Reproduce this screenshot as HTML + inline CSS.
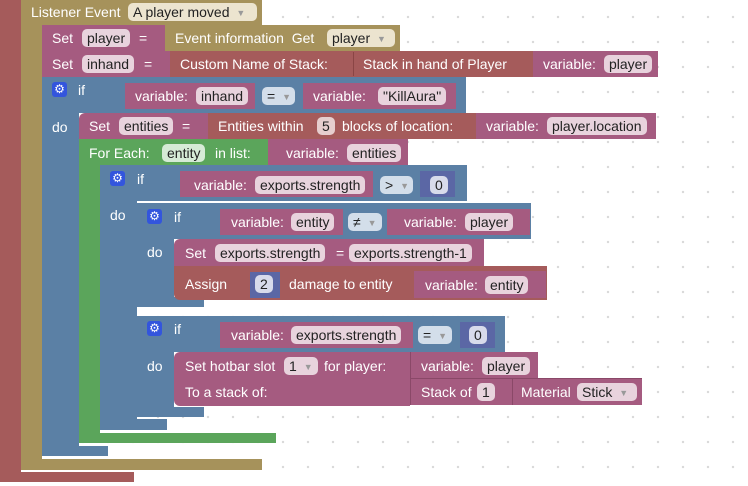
<!DOCTYPE html>
<html><head><style>
body{margin:0;width:748px;height:486px;overflow:hidden;background:#fff;
background-image:radial-gradient(circle,#d8d8d8 1px,transparent 1.4px);background-size:25px 25px;background-position:-4.5px 4.5px;
font-family:"Liberation Sans",sans-serif;font-size:14px;color:#fff;position:relative}
.b{position:absolute;box-sizing:border-box}
.t{position:absolute;white-space:nowrap;line-height:16px}
.c{position:absolute;height:18px;line-height:18px;padding:0 5px;border-radius:5px;color:#222;white-space:nowrap;box-sizing:border-box}
.c i{font-style:normal;font-size:9px;color:#999;vertical-align:1px;margin-left:3px}
.R{background:#a55b5b}.T{background:#a6925b}.M{background:#a55b80}.B{background:#5b80a5}.G{background:#5ba55b}.N{background:#5b67a5}
.cm{background:#e8d3dd}.ct{background:#ece4cf}.cg{background:#d6ebd6}.cb{background:#d3deea}.cn{background:#d8dbeb}
.g{position:absolute;width:15px;height:15px;background:#3355dd;border-radius:3px;color:#fff;font-size:12px;line-height:15px;text-align:center}
</style></head><body>
<div class="b R" style="left:0;top:0;width:21px;height:482px;border-bottom-left-radius:6px"></div>
<div class="b R" style="left:0;top:472px;width:134px;height:10px"></div>
<div class="b T" style="left:21px;top:0;width:241px;height:25px"></div>
<div class="b T" style="left:21px;top:0;width:21px;height:470px"></div>
<div class="b T" style="left:21px;top:459px;width:241px;height:11px"></div>
<div class="t" style="left:31px;top:4px">Listener Event</div>
<div class="c ct" style="left:128px;top:3px;width:129px">A player moved <i>▼</i></div>
<div class="b M" style="left:42px;top:25px;width:124px;height:26px"></div>
<div class="t" style="left:52px;top:30px">Set</div>
<div class="c cm" style="left:82px;top:29px">player</div>
<div class="t" style="left:139px;top:30px">=</div>
<div class="b T" style="left:165px;top:25px;width:235px;height:26px"></div>
<div class="t" style="left:175px;top:30px">Event information&nbsp; Get</div>
<div class="c ct" style="left:327px;top:29px;width:68px">player <i>▼</i></div>
<div class="b M" style="left:42px;top:51px;width:129px;height:26px"></div>
<div class="t" style="left:52px;top:56px">Set</div>
<div class="c cm" style="left:82px;top:55px">inhand</div>
<div class="t" style="left:144px;top:56px">=</div>
<div class="b R" style="left:170px;top:51px;width:363px;height:26px"></div>
<div class="t" style="left:180px;top:56px">Custom Name of Stack:</div>
<div class="b R" style="left:353px;top:52px;width:180px;height:24px;border-left:1px solid #8a4545"></div>
<div class="t" style="left:363px;top:56px">Stack in hand of Player</div>
<div class="b M" style="left:533px;top:51px;width:125px;height:26px"></div>
<div class="t" style="left:543px;top:56px">variable:</div>
<div class="c cm" style="left:604px;top:55px">player</div>
<div class="b B" style="left:42px;top:77px;width:424px;height:36px"></div>
<div class="b B" style="left:42px;top:77px;width:37px;height:379px"></div>
<div class="b B" style="left:42px;top:446px;width:66px;height:10px"></div>
<div class="g" style="left:52px;top:82px">⚙</div>
<div class="t" style="left:78px;top:82px">if</div>
<div class="b M" style="left:125px;top:83px;width:130px;height:26px"></div>
<div class="t" style="left:135px;top:88px">variable:</div>
<div class="c cm" style="left:196px;top:87px">inhand</div>
<div class="c cb" style="left:262px;top:87px;width:33px">= <i>▼</i></div>
<div class="b M" style="left:303px;top:83px;width:153px;height:26px"></div>
<div class="t" style="left:313px;top:88px">variable:</div>
<div class="c cm" style="left:378px;top:87px">"KillAura"</div>
<div class="t" style="left:52px;top:119px">do</div>
<div class="b M" style="left:79px;top:113px;width:130px;height:26px;border-top-left-radius:6px"></div>
<div class="t" style="left:89px;top:118px">Set</div>
<div class="c cm" style="left:119px;top:117px">entities</div>
<div class="t" style="left:182px;top:118px">=</div>
<div class="b R" style="left:208px;top:113px;width:268px;height:26px"></div>
<div class="t" style="left:218px;top:118px">Entities within</div>
<div class="c" style="left:317px;top:117px;background:#e6cece">5</div>
<div class="t" style="left:342px;top:118px">blocks of location:</div>
<div class="b M" style="left:476px;top:113px;width:180px;height:26px"></div>
<div class="t" style="left:486px;top:118px">variable:</div>
<div class="c cm" style="left:547px;top:117px">player.location</div>
<div class="b G" style="left:79px;top:139px;width:190px;height:26px"></div>
<div class="b G" style="left:79px;top:139px;width:21px;height:304px;border-bottom-left-radius:6px"></div>
<div class="b G" style="left:79px;top:433px;width:197px;height:10px"></div>
<div class="t" style="left:89px;top:145px">For Each:</div>
<div class="c cg" style="left:162px;top:144px">entity</div>
<div class="t" style="left:215px;top:145px">in list:</div>
<div class="b M" style="left:268px;top:139px;width:140px;height:26px"></div>
<div class="t" style="left:286px;top:145px">variable:</div>
<div class="c cm" style="left:347px;top:144px">entities</div>
<div class="b B" style="left:100px;top:165px;width:367px;height:36px;border-top-left-radius:6px"></div>
<div class="b B" style="left:100px;top:165px;width:37px;height:265px;border-bottom-left-radius:6px"></div>
<div class="b B" style="left:100px;top:419px;width:67px;height:11px"></div>
<div class="g" style="left:110px;top:171px">⚙</div>
<div class="t" style="left:137px;top:171px">if</div>
<div class="b M" style="left:180px;top:171px;width:193px;height:26px"></div>
<div class="t" style="left:194px;top:177px">variable:</div>
<div class="c cm" style="left:255px;top:176px">exports.strength</div>
<div class="c cb" style="left:380px;top:176px;width:33px">&gt; <i>▼</i></div>
<div class="b N" style="left:420px;top:171px;width:35px;height:26px"></div>
<div class="c cn" style="left:430px;top:176px">0</div>
<div class="t" style="left:110px;top:207px">do</div>
<div class="b B" style="left:137px;top:203px;width:394px;height:36px;border-top-left-radius:6px"></div>
<div class="b B" style="left:137px;top:203px;width:37px;height:104px;border-bottom-left-radius:6px"></div>
<div class="b B" style="left:137px;top:297px;width:67px;height:10px"></div>
<div class="g" style="left:147px;top:209px">⚙</div>
<div class="t" style="left:174px;top:209px">if</div>
<div class="b M" style="left:220px;top:209px;width:123px;height:26px"></div>
<div class="t" style="left:231px;top:214px">variable:</div>
<div class="c cm" style="left:291px;top:213px">entity</div>
<div class="c cb" style="left:348px;top:213px;width:34px">≠ <i>▼</i></div>
<div class="b M" style="left:387px;top:209px;width:143px;height:26px"></div>
<div class="t" style="left:404px;top:214px">variable:</div>
<div class="c cm" style="left:465px;top:213px">player</div>
<div class="t" style="left:147px;top:244px">do</div>
<div class="b M" style="left:174px;top:239px;width:310px;height:27px;border-top-left-radius:6px"></div>
<div class="t" style="left:185px;top:245px">Set</div>
<div class="c cm" style="left:215px;top:244px">exports.strength</div>
<div class="t" style="left:336px;top:245px">=</div>
<div class="c cm" style="left:349px;top:244px">exports.strength-1</div>
<div class="b R" style="left:174px;top:266px;width:373px;height:34px;border-bottom-left-radius:6px"></div>
<div class="t" style="left:185px;top:276px">Assign</div>
<div class="b N" style="left:250px;top:272px;width:30px;height:26px"></div>
<div class="c cn" style="left:255px;top:275px">2</div>
<div class="t" style="left:289px;top:276px">damage to entity</div>
<div class="b M" style="left:414px;top:271px;width:132px;height:27px"></div>
<div class="t" style="left:425px;top:277px">variable:</div>
<div class="c cm" style="left:485px;top:276px">entity</div>
<div class="b B" style="left:137px;top:316px;width:368px;height:36px;border-top-left-radius:6px"></div>
<div class="b B" style="left:137px;top:316px;width:37px;height:101px;border-bottom-left-radius:6px"></div>
<div class="b B" style="left:137px;top:407px;width:67px;height:10px"></div>
<div class="g" style="left:147px;top:321px">⚙</div>
<div class="t" style="left:174px;top:321px">if</div>
<div class="b M" style="left:220px;top:322px;width:193px;height:26px"></div>
<div class="t" style="left:231px;top:327px">variable:</div>
<div class="c cm" style="left:291px;top:326px">exports.strength</div>
<div class="c cb" style="left:418px;top:326px;width:34px">= <i>▼</i></div>
<div class="b N" style="left:460px;top:322px;width:35px;height:26px"></div>
<div class="c cn" style="left:469px;top:326px">0</div>
<div class="t" style="left:147px;top:358px">do</div>
<div class="b M" style="left:174px;top:352px;width:236px;height:54px;border-radius:6px 0 0 6px"></div>
<div class="t" style="left:185px;top:358px">Set hotbar slot</div>
<div class="c cm" style="left:284px;top:357px;width:34px">1 <i>▼</i></div>
<div class="t" style="left:324px;top:358px">for player:</div>
<div class="t" style="left:185px;top:384px">To a stack of:</div>
<div class="b M" style="left:410px;top:352px;width:128px;height:26px;border-left:1px solid #8a4868"></div>
<div class="t" style="left:421px;top:358px">variable:</div>
<div class="c cm" style="left:482px;top:357px">player</div>
<div class="b M" style="left:410px;top:378px;width:232px;height:27px;border-left:1px solid #8a4868;border-top:1px solid #8a4868"></div>
<div class="t" style="left:421px;top:384px">Stack of</div>
<div class="c cm" style="left:477px;top:383px">1</div>
<div class="b M" style="left:512px;top:379px;width:130px;height:26px;border-left:1px solid #8a4868"></div>
<div class="t" style="left:521px;top:384px">Material</div>
<div class="c cm" style="left:577px;top:383px;width:60px">Stick <i>▼</i></div>
</body></html>
